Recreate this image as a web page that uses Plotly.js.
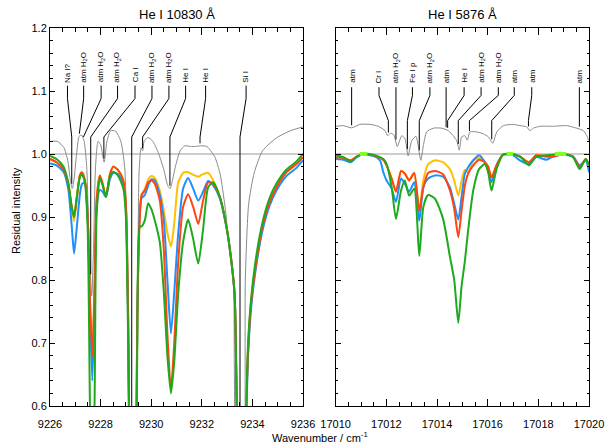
<!DOCTYPE html>
<html><head><meta charset="utf-8">
<script src="https://cdn.plot.ly/plotly-3.0.1.min.js"></script>
<style>body{margin:0;background:#fff}#plot{width:605px;height:445px}</style>
</head><body><div id="plot"></div>
<script>
// ---------- He I 10830 panel (left) ----------
const xLeft = [9226.0,9226.26,9226.53,9226.72,9226.86,9226.95,9227.05,9227.18,9227.26,9227.38,9227.49,9227.58,9227.67,9227.76,9227.84,9227.97,9228.08,9228.21,9228.37,9228.5,9228.7,9228.9,9229.0,9229.09,9229.2,9229.3,9229.38,9229.45,9229.55,9229.62,9229.75,9229.88,9230.01,9230.14,9230.34,9230.5,9230.64,9230.78,9230.91,9231.07,9231.26,9231.46,9231.66,9231.86,9232.05,9232.25,9232.45,9232.71,9232.97,9233.17,9233.3,9233.4,9233.55,9233.68,9233.76,9233.83,9233.96,9234.16,9234.42,9234.68,9234.95,9235.34,9235.74,9236.0];
const yellowLeft = [0.992,0.987,0.976,0.953,0.915,0.893,0.926,0.966,0.971,0.958,0.900,0.768,0.680,0.784,0.926,0.966,0.953,0.932,0.968,0.980,0.974,0.958,0.920,0.740,0.35,0.30,0.40,0.74,0.905,0.935,0.945,0.960,0.965,0.962,0.942,0.910,0.875,0.853,0.890,0.955,0.970,0.971,0.967,0.964,0.968,0.970,0.958,0.932,0.886,0.830,0.775,0.55,0.30,0.45,0.60,0.69,0.768,0.830,0.889,0.923,0.947,0.971,0.984,0.995];
const blueLeft = [0.985,0.982,0.972,0.945,0.885,0.842,0.880,0.935,0.952,0.955,0.900,0.750,0.640,0.760,0.915,0.943,0.940,0.932,0.960,0.970,0.968,0.952,0.915,0.730,0.35,0.30,0.40,0.74,0.910,0.930,0.935,0.950,0.960,0.958,0.935,0.895,0.800,0.715,0.780,0.875,0.945,0.962,0.945,0.926,0.940,0.957,0.950,0.930,0.884,0.828,0.775,0.55,0.30,0.42,0.58,0.68,0.760,0.825,0.882,0.918,0.942,0.965,0.978,0.990];
const redLeft = [0.992,0.987,0.976,0.953,0.916,0.900,0.926,0.966,0.971,0.958,0.900,0.768,0.678,0.784,0.926,0.966,0.953,0.932,0.968,0.980,0.974,0.958,0.920,0.740,0.35,0.30,0.40,0.74,0.900,0.935,0.942,0.955,0.958,0.953,0.926,0.847,0.715,0.625,0.700,0.830,0.916,0.936,0.916,0.889,0.926,0.955,0.953,0.932,0.886,0.830,0.775,0.55,0.30,0.45,0.60,0.69,0.768,0.830,0.889,0.923,0.947,0.971,0.984,0.995];
const greenLeft = [0.997,0.992,0.980,0.955,0.915,0.900,0.930,0.963,0.968,0.955,0.880,0.600,0.450,0.600,0.900,0.962,0.950,0.932,0.965,0.972,0.965,0.945,0.900,0.700,0.33,0.28,0.38,0.70,0.885,0.885,0.895,0.922,0.912,0.895,0.860,0.780,0.680,0.620,0.670,0.780,0.860,0.896,0.865,0.826,0.880,0.947,0.955,0.932,0.886,0.830,0.775,0.55,0.30,0.45,0.60,0.70,0.775,0.840,0.895,0.930,0.953,0.975,0.988,1.000];
const grayLeftX = [9226.0,9226.3,9226.55,9226.7,9226.8,9226.88,9226.95,9227.05,9227.15,9227.25,9227.35,9227.45,9227.55,9227.65,9227.72,9227.8,9227.9,9228.0,9228.14,9228.25,9228.4,9228.6,9228.8,9228.95,9229.05,9229.15,9229.35,9229.45,9229.52,9229.6,9229.66,9229.72,9229.85,9229.98,9230.1,9230.3,9230.5,9230.65,9230.75,9230.85,9230.95,9231.14,9231.33,9231.55,9231.75,9231.95,9232.2,9232.39,9232.52,9232.72,9232.92,9233.1,9233.25,9233.35,9233.65,9233.72,9233.85,9234.07,9234.4,9234.93,9235.5,9236.0];
const grayLeftY = [1.020,1.020,1.010,0.990,0.960,0.945,0.960,1.000,1.028,1.030,1.020,0.980,0.850,0.775,0.850,0.980,1.020,1.015,0.987,1.020,1.037,1.036,1.020,0.980,0.850,0.500,0.400,0.700,0.970,1.010,1.005,1.020,1.026,1.024,1.018,1.000,0.975,0.950,0.945,0.960,0.979,1.005,1.013,1.012,1.012,1.013,1.012,1.003,0.995,0.969,0.916,0.847,0.800,0.550,0.500,0.800,0.920,0.970,1.005,1.025,1.037,1.043];
const labelsLeft = ["Na I?","atm H<sub>2</sub>O","atm H<sub>2</sub>O","atm H<sub>2</sub>O","Ca I","atm H<sub>2</sub>O","atm H<sub>2</sub>O","He I","He I","Si I"];
const labelPosLeft = [9226.69,9227.33,9228.02,9228.67,9229.36,9230.03,9230.70,9231.36,9232.15,9233.75];
const linePosLeft = [9226.86,9227.16,9227.32,9227.61,9228.13,9229.23,9229.66,9230.74,9231.93,9233.51];

// ---------- He I 5876 panel (right) ----------
const xRight = [17010.0,17010.3,17010.6,17010.83,17011.09,17011.48,17011.75,17011.88,17012.01,17012.21,17012.38,17012.58,17012.73,17012.9,17013.1,17013.3,17013.46,17013.65,17013.92,17014.24,17014.51,17014.68,17014.84,17014.97,17015.1,17015.23,17015.43,17015.66,17015.89,17016.02,17016.15,17016.35,17016.61,17017.0,17017.27,17017.63,17017.92,17018.32,17018.58,17018.98,17019.37,17019.63,17019.87,17020.0];
const yellowRight = [0.995,0.994,0.990,0.996,1.000,0.998,0.994,0.991,0.982,0.961,0.940,0.973,0.969,0.958,0.970,0.910,0.958,0.984,0.990,0.987,0.976,0.958,0.934,0.958,0.975,0.971,0.989,0.994,0.987,0.980,0.963,0.982,0.999,0.999,0.996,0.987,0.998,0.996,0.996,1.000,0.996,0.979,0.992,0.984];
const blueRight = [0.992,0.991,0.987,0.995,0.999,0.997,0.990,0.971,0.958,0.945,0.924,0.961,0.953,0.940,0.955,0.894,0.947,0.961,0.966,0.964,0.947,0.921,0.896,0.932,0.969,0.979,0.990,0.998,0.987,0.974,0.955,0.982,0.999,0.998,0.990,0.984,0.995,0.991,0.996,0.999,0.996,0.982,0.990,0.971];
const redRight = [0.995,0.994,0.990,0.996,1.000,0.998,0.994,0.991,0.982,0.961,0.940,0.973,0.969,0.958,0.970,0.910,0.947,0.970,0.973,0.968,0.942,0.913,0.868,0.910,0.950,0.969,0.982,0.991,0.987,0.980,0.963,0.982,0.999,0.999,0.996,0.987,0.998,0.996,0.996,1.000,0.996,0.979,0.992,0.984];
const greenRight = [0.998,0.995,0.988,0.996,1.000,0.999,0.995,0.992,0.984,0.947,0.897,0.942,0.958,0.934,0.945,0.838,0.916,0.935,0.929,0.897,0.837,0.800,0.732,0.790,0.830,0.879,0.942,0.976,0.984,0.971,0.942,0.976,0.999,1.000,0.996,0.982,0.996,0.998,0.999,1.001,0.995,0.976,0.992,0.982];
const limeRight = [[17010.95,17011.25],[17016.75,17017.0],[17018.65,17019.1]];
const grayRightX = [17010.0,17010.3,17010.63,17010.96,17011.36,17011.68,17011.95,17012.05,17012.17,17012.3,17012.43,17012.61,17012.74,17012.86,17013.0,17013.17,17013.36,17013.46,17013.59,17013.86,17014.18,17014.45,17014.64,17014.78,17014.88,17014.97,17015.1,17015.2,17015.3,17015.57,17015.83,17016.03,17016.2,17016.36,17016.62,17017.01,17017.28,17017.54,17017.67,17017.8,17018.07,17018.59,17019.12,17019.51,17019.78,17019.91,17020.0];
const grayRightY = [1.044,1.045,1.0415,1.047,1.047,1.044,1.037,1.029,1.033,1.030,1.012,1.029,1.024,0.997,1.021,1.028,0.990,1.013,1.035,1.041,1.041,1.037,1.029,1.021,1.006,1.027,1.029,1.022,1.035,1.035,1.032,1.027,1.017,1.035,1.045,1.047,1.045,1.043,1.037,1.041,1.044,1.044,1.045,1.041,1.037,1.029,1.021];
const labelsRight = ["atm","Cr I","atm H<sub>2</sub>O","Fe I p","atm H<sub>2</sub>O","atm","He I","atm H<sub>2</sub>O","atm H<sub>2</sub>O","atm","atm","atm"];
const labelPosRight = [17010.63,17011.71,17012.38,17013.03,17013.72,17014.36,17015.07,17015.74,17016.42,17017.05,17017.74,17019.62];
const linePosRight = [17010.63,17012.08,17012.38,17012.83,17013.30,17014.36,17014.42,17014.84,17015.28,17016.16,17017.61,17019.62];

// ---------- helpers ----------
function interp(xs, ys, x){
  if (x <= xs[0]) return ys[0];
  for (let i = 0; i < xs.length - 1; i++){
    if (x >= xs[i] && x <= xs[i+1]){
      const t = (x - xs[i]) / (xs[i+1] - xs[i]);
      return ys[i] + t * (ys[i+1] - ys[i]);
    }
  }
  return ys[ys.length-1];
}
function idPaths(lab, lin, gx, gy, top, k1, k2){
  const X = [], Y = [];
  for (let i = 0; i < lab.length; i++){
    let end = interp(gx, gy, lin[i]) + 0.004;
    if (end < 0.55) end = 0.55;
    const k2v = end > k2 ? Math.min(end, k1) : k2;
    X.push(lab[i], lab[i], lin[i], lin[i], null);
    Y.push(top, k1, k2v, Math.min(end, k2v), null);
  }
  return {X, Y};
}
function limeTrace(segs){
  const X = [], Y = [];
  segs.forEach(s => { X.push(s[0], s[1], null); Y.push(1.0, 1.0, null); });
  return {X, Y};
}

const FONT = "Liberation Sans, Arial, Helvetica, sans-serif";
const C = {yellow:"#FFC000", blue:"#1E8FFF", red:"#FF4513", green:"#1DAA1D", gray:"#8a8a8a", lime:"#80FF20"};

function spec(x, y, color, w, xa, ya){
  return {x, y, xaxis:xa, yaxis:ya, type:"scatter", mode:"lines",
    line:{color, width:w, shape:"spline", smoothing:0.6}, hoverinfo:"skip", showlegend:false};
}

const pl = idPaths(labelPosLeft, linePosLeft, grayLeftX, grayLeftY, 1.1085, 1.088, 1.027);
const pr = idPaths(labelPosRight, linePosRight, grayRightX, grayRightY, 1.106, 1.093, 1.053);
const lm = limeTrace(limeRight);

const traces = [
  spec(grayLeftX, grayLeftY, C.gray, 1, "x", "y"),
  spec(xLeft, yellowLeft, C.yellow, 2, "x", "y"),
  spec(xLeft, blueLeft, C.blue, 2, "x", "y"),
  spec(xLeft, redLeft, C.red, 2, "x", "y"),
  spec(xLeft, greenLeft, C.green, 2, "x", "y"),
  {x:pl.X, y:pl.Y, xaxis:"x", yaxis:"y", mode:"lines", line:{color:"#000", width:1}, hoverinfo:"skip", showlegend:false},
  spec(grayRightX, grayRightY, C.gray, 1, "x2", "y2"),
  spec(xRight, yellowRight, C.yellow, 2, "x2", "y2"),
  spec(xRight, blueRight, C.blue, 2, "x2", "y2"),
  spec(xRight, redRight, C.red, 2, "x2", "y2"),
  spec(xRight, greenRight, C.green, 2, "x2", "y2"),
  {x:lm.X, y:lm.Y, xaxis:"x2", yaxis:"y2", mode:"lines", line:{color:C.lime, width:4}, hoverinfo:"skip", showlegend:false},
  {x:pr.X, y:pr.Y, xaxis:"x2", yaxis:"y2", mode:"lines", line:{color:"#000", width:1}, hoverinfo:"skip", showlegend:false}
];

const annotations = [];
labelsLeft.forEach((t,i) => annotations.push({text:t, x:labelPosLeft[i], y:1.1117, xref:"x", yref:"y",
  textangle:-90, xanchor:"center", yanchor:"bottom", showarrow:false, borderpad:0, font:{size:8, family:FONT, color:"#000"}}));
labelsRight.forEach((t,i) => annotations.push({text:t, x:labelPosRight[i], y:1.111, xref:"x2", yref:"y2",
  textangle:-90, xanchor:"center", yanchor:"bottom", showarrow:false, borderpad:0, font:{size:8, family:FONT, color:"#000"}}));
annotations.push({text:"He I 10830 Å", xref:"x domain", yref:"paper", x:0.5, y:1.037, showarrow:false, xanchor:"center", yanchor:"middle", font:{size:13, family:FONT, color:"#000"}});
annotations.push({text:"He I 5876 Å", xref:"x2 domain", yref:"paper", x:0.5, y:1.037, showarrow:false, xanchor:"center", yanchor:"middle", font:{size:13, family:FONT, color:"#000"}});
annotations.push({text:"Residual intensity", xref:"paper", yref:"paper", x:-0.063, y:0.516, textangle:-90, showarrow:false, xanchor:"center", yanchor:"middle", font:{size:11, family:FONT, color:"#000"}});
annotations.push({text:"Wavenumber / cm<sup>-1</sup>", xref:"paper", yref:"paper", x:0.501, y:-0.082, showarrow:false, xanchor:"center", yanchor:"middle", font:{size:11, family:FONT, color:"#000"}});

function xax(domain, range, anchor){
  return {domain, range, anchor, tick0:range[0], dtick:2, tickformat:"d", ticks:"inside", ticklen:7, tickwidth:1, tickcolor:"#000",
    showline:true, linecolor:"#000", linewidth:1, mirror:"allticks", showgrid:false, zeroline:false, ticklabelstandoff:8,
    minor:{dtick:0.5, ticks:"inside", ticklen:4, tickcolor:"#000", tickwidth:1, showgrid:false},
    tickfont:{size:11, family:FONT, color:"#000"}};
}
function yax(anchor, labels){
  return {range:[0.6,1.2], anchor, domain:[0,1], tick0:0.6, dtick:0.1, tickformat:".1f", ticks:"inside", ticklen:5, tickwidth:1, tickcolor:"#000",
    showline:true, linecolor:"#000", linewidth:1, mirror:"allticks", showgrid:false, zeroline:false, showticklabels:labels,
    minor:{dtick:0.02, ticks:"inside", ticklen:2.5, tickcolor:"#000", tickwidth:1, showgrid:false},
    tickfont:{size:11, family:FONT, color:"#000"}};
}

const layout = {
  width:605, height:445, margin:{l:50, r:16, t:28, b:39},
  paper_bgcolor:"#fff", plot_bgcolor:"#fff", showlegend:false,
  xaxis:xax([0,0.4694],[9226,9236],"y"),
  xaxis2:xax([0.530,1],[17010,17020],"y2"),
  yaxis:yax("x", true),
  yaxis2:Object.assign(yax("x2", false), {matches:"y"}),
  shapes:[
    {type:"line", xref:"x domain", yref:"y", x0:0, x1:1, y0:1, y1:1, line:{color:"#999", width:1.2}, layer:"below"},
    {type:"line", xref:"x2 domain", yref:"y2", x0:0, x1:1, y0:1, y1:1, line:{color:"#999", width:1.2}, layer:"below"}
  ],
  annotations
};

Plotly.newPlot("plot", traces, layout, {staticPlot:true, displayModeBar:false});
</script></body></html>
